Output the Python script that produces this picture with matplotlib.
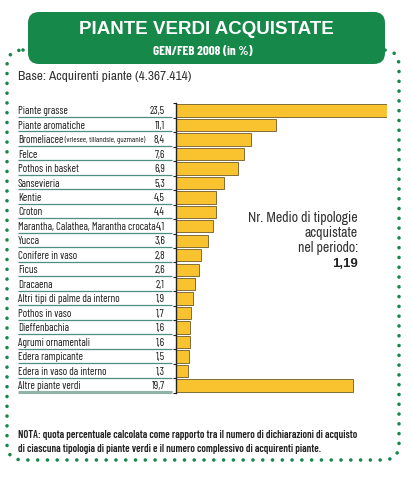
import matplotlib
matplotlib.use("Agg")
import matplotlib.pyplot as plt
from matplotlib.patches import FancyBboxPatch
from matplotlib.transforms import blended_transform_factory

# Dati
categorie = [
    "Piante grasse", "Piante aromatiche", "Bromeliacee", "Felce",
    "Pothos in basket", "Sansevieria", "Kentie", "Croton",
    "Marantha, Calathea, Marantha crocata", "Yucca", "Conifere in vaso",
    "Ficus", "Dracaena", "Altri tipi di palme da interno", "Pothos in vaso",
    "Dieffenbachia", "Agrumi ornamentali", "Edera rampicante",
    "Edera in vaso da interno", "Altre piante verdi",
]
valori = [23.5, 11.1, 8.4, 7.6, 6.9, 5.3, 4.5, 4.4, 4.1, 3.6, 2.8,
          2.6, 2.1, 1.9, 1.7, 1.6, 1.6, 1.5, 1.3, 19.7]
nota_bromeliacee = "(vriesee, tillandsie, guzmanie)"
titolo = "PIANTE VERDI ACQUISTATE"
sottotitolo = "GEN/FEB 2008 (in %)"
base = "Base: Acquirenti piante (4.367.414)"
media_righe = ["Nr. Medio di tipologie", "acquistate", "nel periodo:"]
media_valore = "1,19"
nota = ("NOTA: quota percentuale calcolata come rapporto tra il numero di dichiarazioni di acquisto\n"
        "di ciascuna tipologia di piante verdi e il numero complessivo di acquirenti piante.")

verde = "#16884a"
giallo = "#f9c22f"
narrow = ["Archivo Narrow", "DejaVu Sans"]
cond = ["Barlow Condensed", "DejaVu Sans"]
sans = ["Liberation Sans", "DejaVu Sans"]

W, H = 413, 480
fig = plt.figure(figsize=(W / 100, H / 100), dpi=100)

# Sfondo in coordinate pixel
bg = fig.add_axes([0, 0, 1, 1])
bg.set_xlim(0, W)
bg.set_ylim(H, 0)
bg.axis("off")

# Cornice a puntini
bordo = FancyBboxPatch((7, 50), 392, 410, boxstyle="round,pad=0,rounding_size=16",
                       fill=False, edgecolor=verde, linewidth=2.6,
                       linestyle=(0, (0.01, 2.7)))
bordo.set_capstyle("round")
bg.add_patch(bordo)

# Intestazione verde
testata = FancyBboxPatch((28, 12), 357, 52, boxstyle="round,pad=0,rounding_size=11",
                         facecolor=verde, edgecolor="none")
bg.add_patch(testata)
bg.text(206, 30, titolo, color="white", fontsize=13.5, fontweight="bold",
        family=sans, ha="center", va="center")
bg.text(203, 52, sottotitolo, color="white", fontsize=9.4, fontweight="bold",
        family=cond, ha="center", va="center")

bg.text(18, 77, base, color="#333333", fontsize=9.6, family=narrow, va="center")

y_media = [218, 233, 248]
for riga, yy in zip(media_righe, y_media):
    bg.text(358, yy, riga, color="#333333", fontsize=10, family=narrow,
            ha="right", va="center")
bg.text(358, 264, media_valore, color="#222222", fontsize=9.5, fontweight="bold",
        family=sans, ha="right", va="center")

bg.text(18, 442, nota, color="#222222", fontsize=7.6, fontweight="semibold",
        family=cond, va="center", linespacing=1.45)

# Grafico a barre
x0, x1 = 176, 387
y_top, y_bot = 103.1, 392.9
ax = fig.add_axes([x0 / W, (H - y_bot) / H, (x1 - x0) / W, (y_bot - y_top) / H])
ax.set_facecolor("none")
pos = list(range(len(categorie)))
ax.barh(pos, valori, height=0.86, color=giallo, edgecolor="#6e5a2a", linewidth=0.6)
ax.set_xlim(0, max(valori))
ax.set_ylim(len(categorie) - 0.5, -0.5)

for lato in ["top", "right", "bottom"]:
    ax.spines[lato].set_visible(False)
ax.spines["left"].set_linewidth(1.0)
ax.spines["left"].set_color("#222222")
ax.set_xticks([])
ax.set_yticks([p - 0.5 for p in pos] + [len(categorie) - 0.5])
ax.set_yticklabels([])
ax.tick_params(axis="y", length=2.5, width=0.8, color="#222222")

tr = blended_transform_factory(ax.transAxes, ax.transData)
xl = (18 - x0) / (x1 - x0)
xv = (165 - x0) / (x1 - x0)
xr = (172 - x0) / (x1 - x0)
for i, (nome, v) in enumerate(zip(categorie, valori)):
    t = ax.text(xl, i + 0.05, nome, transform=tr, fontsize=7.8, family=cond,
                fontweight="normal", color="#1a1a1a", va="center", clip_on=False)
    if nome == "Bromeliacee":
        ax.annotate(" " + nota_bromeliacee, xy=(1, 0.5), xycoords=t, fontsize=5.8,
                    family=cond, color="#1a1a1a", va="center",
                    annotation_clip=False)
    ax.text(xv, i + 0.05, f"{v:.1f}".replace(".", ","), transform=tr, fontsize=7.8,
            family=cond, color="#1a1a1a", ha="right", va="center", clip_on=False)
    ultimo = i == len(categorie) - 1
    ax.plot([xl, xr], [i + 0.44, i + 0.44], transform=tr, clip_on=False,
            color="#8fb3a9" if ultimo else "#4f8f80",
            linewidth=2.2 if ultimo else 0.9, solid_capstyle="butt")

fig.savefig("out.png", dpi=100)
